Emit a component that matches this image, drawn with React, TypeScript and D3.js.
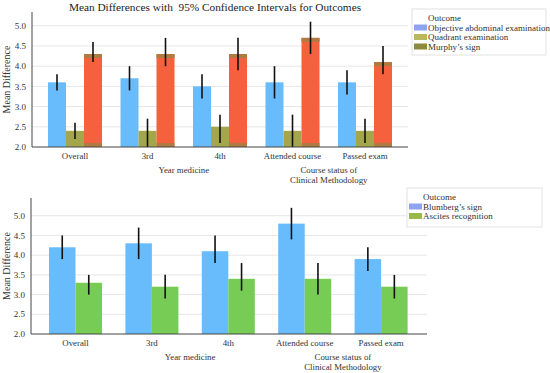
import React from "react";
import * as d3 from "d3";

const categories = ["Overall", "3rd", "4th", "Attended course", "Passed exam"];
const yTicks = [2.0, 2.5, 3.0, 3.5, 4.0, 4.5, 5.0];

// Top panel
const topSeries = ["Objective abdominal examination", "Quadrant examination", "Murphy’s sign"];
const objMean = [3.6, 3.7, 3.5, 3.6, 3.6];
const objLow = [3.4, 3.4, 3.2, 3.2, 3.3];
const objHigh = [3.8, 4.0, 3.8, 4.0, 3.9];
const quadMean = [2.4, 2.4, 2.5, 2.4, 2.4];
const quadLow = [2.2, 2.0, 2.1, 2.0, 2.1];
const quadHigh = [2.6, 2.7, 2.8, 2.8, 2.7];
const murMean = [4.3, 4.3, 4.3, 4.7, 4.1];
const murLow = [4.1, 4.0, 3.9, 4.3, 3.8];
const murHigh = [4.6, 4.7, 4.7, 5.1, 4.5];

// Bottom panel
const bottomSeries = ["Blumberg’s sign", "Ascites recognition"];
const blumMean = [4.2, 4.3, 4.1, 4.8, 3.9];
const blumLow = [3.9, 3.9, 3.8, 4.4, 3.6];
const blumHigh = [4.5, 4.7, 4.5, 5.2, 4.2];
const ascMean = [3.3, 3.2, 3.4, 3.4, 3.2];
const ascLow = [3.0, 2.9, 3.1, 3.0, 2.9];
const ascHigh = [3.5, 3.5, 3.8, 3.8, 3.5];

const FONT = "'Liberation Serif', 'DejaVu Serif', serif";
const TXT = "#333";

type Series = { name: string; mean: number[]; low: number[]; high: number[]; bar: string; swatch: string; cap?: string };

function Panel(props: {
  series: Series[];
  yTop: number; yBottom: number; yMax: number;
  xLeft: number; xRight: number;
  bandStart: number; bandEnd: number; padIn: number;
  legendX: number; legendY: number; legendW: number; legendH: number; legendRow: number;
}) {
  const { series, yTop, yBottom, yMax, xLeft, xRight, bandStart, bandEnd, padIn } = props;
  const y = d3.scaleLinear().domain([2, yMax]).range([yBottom, yTop]);
  const x = d3.scaleBand<string>().domain(categories).range([bandStart, bandEnd]).paddingInner(padIn).paddingOuter(padIn / 2);
  const xs = d3.scaleBand<string>().domain(series.map((s) => s.name)).range([0, x.bandwidth()]).padding(0);
  const c = (i: number) => (x(categories[i]) as number) + x.bandwidth() / 2;
  const bw = xs.bandwidth();
  return (
    <g>
      {yTicks.map((t) => (
        <g key={t}>
          {t > 2 && <line x1={xLeft} x2={xRight} y1={y(t)} y2={y(t)} stroke="#e6e6e6" strokeWidth={1} />}
          <text x={xLeft - 6} y={y(t)} dy="0.35em" textAnchor="end" fontSize={9} fontFamily={FONT} fill={TXT}>
            {t.toFixed(1)}
          </text>
        </g>
      ))}
      {series.map((s) =>
        categories.map((cat, i) => {
          const bx = (x(cat) as number) + (xs(s.name) as number);
          const top = y(s.mean[i]);
          return (
            <g key={s.name + cat}>
              <rect x={bx} y={top} width={bw} height={yBottom - top} fill={s.bar} />
              {s.cap && <rect x={bx} y={top} width={bw} height={4} fill={s.cap} />}
              {s.cap && <rect x={bx} y={yBottom - 4} width={bw} height={4} fill={s.cap} />}
              <line x1={bx + bw / 2} x2={bx + bw / 2} y1={y(s.low[i])} y2={y(s.high[i])} stroke="#111" strokeWidth={1.6} />
            </g>
          );
        })
      )}
      <line x1={xLeft} x2={xLeft} y1={yTop} y2={yBottom} stroke="#444" strokeWidth={1} />
      <line x1={xLeft} x2={xRight} y1={yBottom} y2={yBottom} stroke="#444" strokeWidth={1} />
      {categories.map((cat, i) => (
        <text key={cat} x={c(i)} y={yBottom + 12} textAnchor="middle" fontSize={8.8} fontFamily={FONT} fill={TXT}>
          {cat}
        </text>
      ))}
      <text x={(c(1) + c(2)) / 2} y={yBottom + 26} textAnchor="middle" fontSize={8.8} fontFamily={FONT} fill={TXT}>
        Year medicine
      </text>
      <text x={(c(3) + c(4)) / 2} y={yBottom + 26} textAnchor="middle" fontSize={8.8} fontFamily={FONT} fill={TXT}>
        Course status of
      </text>
      <text x={(c(3) + c(4)) / 2} y={yBottom + 35.5} textAnchor="middle" fontSize={8.8} fontFamily={FONT} fill={TXT}>
        Clinical Methodology
      </text>
      <text
        transform={`translate(${10},${(yTop + yBottom) / 2}) rotate(-90)`}
        textAnchor="middle"
        fontSize={10}
        fontFamily={FONT}
        fill={TXT}
      >
        Mean Difference
      </text>
      <g transform={`translate(${props.legendX},${props.legendY})`}>
        <rect x={0} y={0} width={props.legendW} height={props.legendH} fill="#fff" stroke="#e2e2e2" />
        <text x={16} y={9} dy="0.35em" fontSize={9} fontFamily={FONT} fill={TXT}>Outcome</text>
        {series.map((s, i) => (
          <g key={s.name} transform={`translate(0,${9 + props.legendRow * (i + 1)})`}>
            <rect x={2} y={-3} width={13} height={6} fill={s.swatch} />
            <text x={16} y={0} dy="0.35em" fontSize={9} fontFamily={FONT} fill={TXT}>{s.name}</text>
          </g>
        ))}
      </g>
    </g>
  );
}

export default function App() {
  const top: Series[] = [
    { name: topSeries[0], mean: objMean, low: objLow, high: objHigh, bar: "#68bcfb", swatch: "#8fa4f0" },
    { name: topSeries[1], mean: quadMean, low: quadLow, high: quadHigh, bar: "#a3a64a", swatch: "#b9b85e" },
    { name: topSeries[2], mean: murMean, low: murLow, high: murHigh, bar: "#f5613d", swatch: "#8c8a3e", cap: "#b07b42" },
  ];
  const bottom: Series[] = [
    { name: bottomSeries[0], mean: blumMean, low: blumLow, high: blumHigh, bar: "#68bcfb", swatch: "#8fa4f0" },
    { name: bottomSeries[1], mean: ascMean, low: ascLow, high: ascHigh, bar: "#77cc55", swatch: "#98b84c" },
  ];
  return (
    <svg width={550} height={373} style={{ position: "absolute", left: 0, top: 0, background: "#fff" }}>
      <text x={215} y={11} textAnchor="middle" fontSize={11.3} fontFamily={FONT} fill="#222" style={{ whiteSpace: "pre" }}>
        {"Mean Differences with  95% Confidence Intervals for Outcomes"}
      </text>
      <Panel
        series={top}
        yTop={12} yBottom={147} yMax={5.34}
        xLeft={32} xRight={408}
        bandStart={38.75} bandEnd={401.25} padIn={0.255}
        legendX={412} legendY={9} legendW={134} legendH={46} legendRow={9.5}
      />
      <Panel
        series={bottom}
        yTop={198} yBottom={334} yMax={5.45}
        xLeft={31} xRight={427}
        bandStart={37.3} bandEnd={419.3} padIn={0.306}
        legendX={407} legendY={188} legendW={135} legendH={39} legendRow={9.5}
      />
    </svg>
  );
}
